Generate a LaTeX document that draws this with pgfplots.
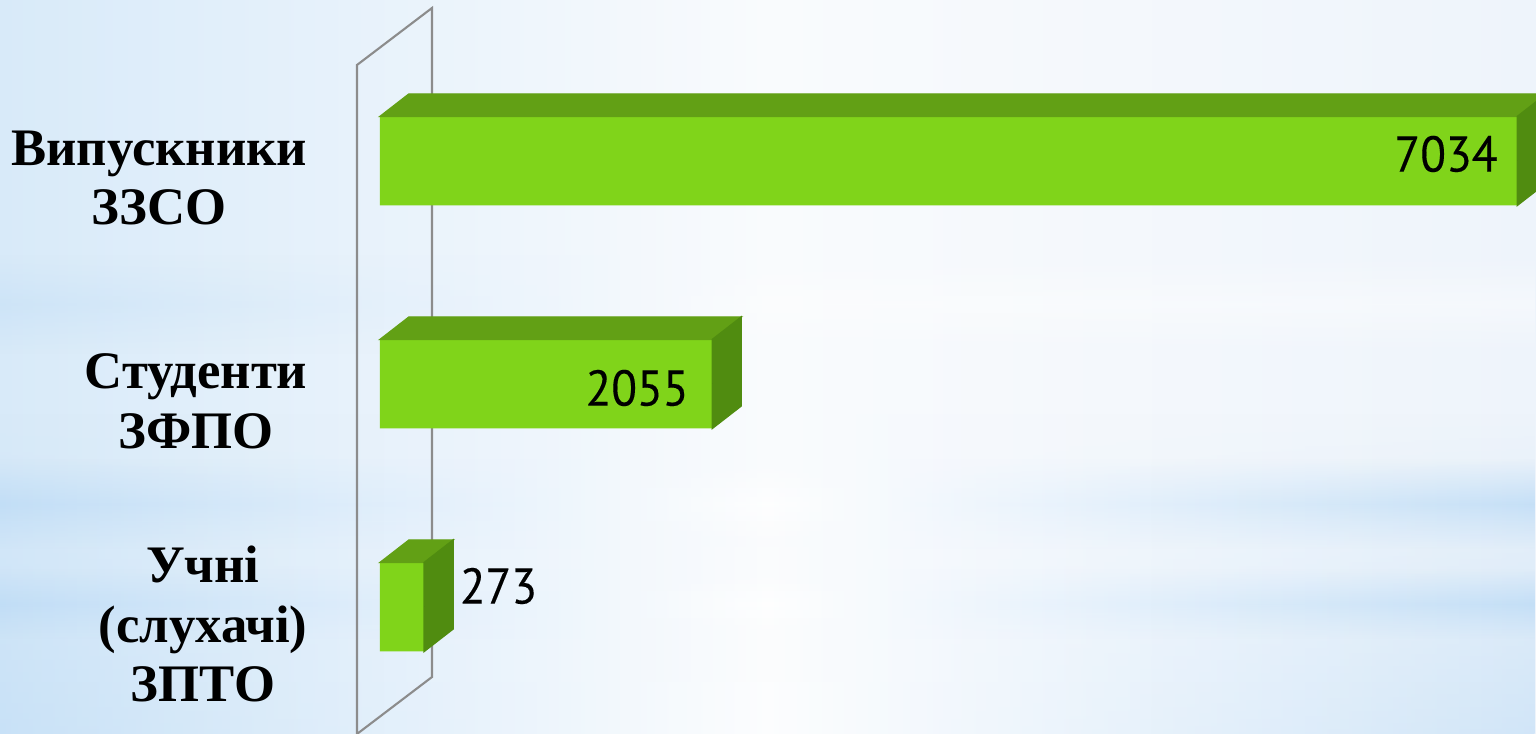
\documentclass[border=0pt]{standalone}
\usepackage{fontspec}
\setmainfont{Liberation Serif}
\newfontfamily\numfont[FakeStretch=0.94, FakeBold=0.2]{PT Sans}
\usepackage{pgfplots}
\pgfplotsset{compat=1.18}
\usepackage{pgfplotstable}
\usetikzlibrary{fadings}

\definecolor{frontgreen}{HTML}{80D41A}
\definecolor{topgreen}{HTML}{62A015}
\definecolor{sidegreen}{HTML}{508C10}
\definecolor{wallgray}{HTML}{8C8C8C}
\definecolor{bgleft}{HTML}{D8EAF9}
\definecolor{bgmid}{HTML}{F9FBFD}
\definecolor{bgright}{HTML}{EEF4FB}
\definecolor{bandblue}{HTML}{BEDCF6}

\tikzfading[name=band, top color=transparent!100, bottom color=transparent!100, middle color=transparent!0]
\tikzfading[name=lower, top color=transparent!100, bottom color=transparent!0]

% pos: 0 = bottom bar; dx, dy = label offset from bar end (cm)
\pgfplotstableread{
pos value anc dx dy
2 7034 east -0.19 0.07
1 2055 east -0.23 -0.04
0 273 west 0.35 0.21
}\enrolment

\begin{document}
\begin{tikzpicture}
% background (whole picture, 1px = 0.01cm)
\path[use as bounding box] (0,0) rectangle (15.36,7.34);
\shade[left color=bgleft, right color=bgright, middle color=bgmid] (0,0) rectangle (15.36,7.34);
\shade[left color=bandblue, right color=bandblue, middle color=white, path fading=lower, opacity=0.6] (0,0) rectangle (15.36,3.2);
\shade[left color=bandblue, right color=bandblue, middle color=white, path fading=band, opacity=0.8] (0,1.85) rectangle (15.36,2.75);
\shade[left color=bandblue, right color=bandblue, middle color=white, path fading=band, opacity=0.8] (0,0.95) rectangle (15.36,1.65);
\shade[left color=bandblue, right color=white, middle color=white, path fading=band, opacity=0.4] (0,3.8) rectangle (15.36,4.8);

% back wall
\draw[wallgray, line width=0.6pt] (3.57,-0.1) -- (3.57,6.69) -- (4.32,7.26) -- (4.32,0.57) -- (3.57,0);

\begin{axis}[
    at={(3.80cm,0.155cm)}, anchor=south west,
    x=0.0016207cm, y=2.23cm,
    xmin=0, xmax=7300, ymin=-0.5, ymax=2.5,
    clip=false,
    axis line style={draw=none},
    xtick=\empty,
    ytick={0,1,2},
    yticklabels={{Учні\\(слухачі)\\ЗПТО},{Студенти\\ЗФПО},{Випускники\\ЗЗСО}},
    major tick length=0pt,
    yticklabel style={align=center, font=\fontsize{15}{17}\selectfont\bfseries,
        inner sep=0pt, anchor=east, xshift=-0.72cm, yshift=-0.17cm},
]
% front faces
\addplot[xbar, bar width=0.89cm, bar shift=0pt, fill=frontgreen, draw=none]
    table[x=value, y=pos] {\enrolment};
% top and side faces of the boxes, plus value labels
\addplot[only marks, mark=*, mark size=0pt, mark options={draw=none, fill=none},
    scatter,
    visualization depends on={\coordindex \as \idx},
    scatter/@pre marker code/.code={%
        \pgfmathtruncatemacro\row{\idx}%
        \pgfplotstablegetelem{\row}{value}\of\enrolment \let\val\pgfplotsretval
        \pgfplotstablegetelem{\row}{anc}\of\enrolment \let\anc\pgfplotsretval
        \pgfplotstablegetelem{\row}{dx}\of\enrolment \let\dx\pgfplotsretval
        \pgfplotstablegetelem{\row}{dy}\of\enrolment \let\dy\pgfplotsretval
        \pgfmathsetlengthmacro\L{\val*0.0016207cm}%
        \pgfmathsetlengthmacro\DX{\dx*1cm}%
        \pgfmathsetlengthmacro\DY{\dy*1cm}%
        \fill[topgreen] (-\L,0.445cm) -- (0pt,0.445cm) -- (0.29cm,0.67cm) -- ({-\L+0.29cm},0.67cm) -- cycle;
        \fill[sidegreen] (0pt,-0.445cm) -- (0.29cm,-0.22cm) -- (0.29cm,0.67cm) -- (0pt,0.445cm) -- cycle;
        \node[anchor=\anc, inner sep=0pt, font=\numfont\fontsize{14.3}{17}\selectfont, text=black] at (\DX,\DY) {\val};
    },
    scatter/@post marker code/.code={},
] table[x=value, y=pos] {\enrolment};
\end{axis}
\end{tikzpicture}
\end{document}
